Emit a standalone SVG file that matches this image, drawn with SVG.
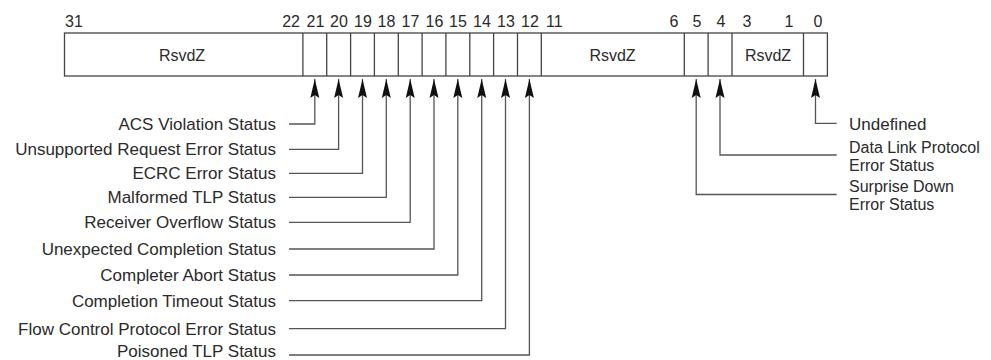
<svg xmlns="http://www.w3.org/2000/svg" width="991" height="360" viewBox="0 0 991 360">
<style>
.lbl{font-family:"Liberation Sans",Arial,sans-serif;font-size:17px;fill:#2a2a2a}
.lbs{font-family:"Liberation Sans",Arial,sans-serif;font-size:16px;fill:#2a2a2a}
.num{font-family:"Liberation Sans",Arial,sans-serif;font-size:16px;fill:#2a2a2a}
.fld{font-family:"Liberation Sans",Arial,sans-serif;font-size:16px;fill:#2a2a2a;text-anchor:middle}
.box{fill:#fff;stroke:#444;stroke-width:1.3}
.div{stroke:#444;stroke-width:1.3}
.con{fill:none;stroke:#555;stroke-width:1.3;marker-end:url(#ah)}
</style>
<defs>
<marker id="ah" markerUnits="userSpaceOnUse" markerWidth="20" markerHeight="10" viewBox="0 0 20 10" refX="19" refY="5" orient="auto">
<path d="M0,0.5 L19,5 L0,9.5 L3,5 Z" fill="#111"/>
</marker>
</defs>
<rect width="991" height="360" fill="#fff"/>
<g id="register">
<rect class="box" x="64.5" y="33" width="762.9" height="43"/>
<g>
<line class="div" x1="302.9" y1="33" x2="302.9" y2="76"/>
<line class="div" x1="326.7" y1="33" x2="326.7" y2="76"/>
<line class="div" x1="350.6" y1="33" x2="350.6" y2="76"/>
<line class="div" x1="374.4" y1="33" x2="374.4" y2="76"/>
<line class="div" x1="398.3" y1="33" x2="398.3" y2="76"/>
<line class="div" x1="422.1" y1="33" x2="422.1" y2="76"/>
<line class="div" x1="445.9" y1="33" x2="445.9" y2="76"/>
<line class="div" x1="469.8" y1="33" x2="469.8" y2="76"/>
<line class="div" x1="493.6" y1="33" x2="493.6" y2="76"/>
<line class="div" x1="517.5" y1="33" x2="517.5" y2="76"/>
<line class="div" x1="541.3" y1="33" x2="541.3" y2="76"/>
<line class="div" x1="684.3" y1="33" x2="684.3" y2="76"/>
<line class="div" x1="708.1" y1="33" x2="708.1" y2="76"/>
<line class="div" x1="732" y1="33" x2="732" y2="76"/>
<line class="div" x1="803.5" y1="33" x2="803.5" y2="76"/>
</g>
<text class="fld" x="182" y="61">RsvdZ</text>
<text class="fld" x="612.5" y="61">RsvdZ</text>
<text class="fld" x="768" y="61">RsvdZ</text>
</g>
<g id="bitnumbers">
<text class="num" x="65" y="27">31</text>
<text class="num" x="300" y="27" text-anchor="end">22</text>
<text class="num" x="315.5" y="27" text-anchor="middle">21</text>
<text class="num" x="339" y="27" text-anchor="middle">20</text>
<text class="num" x="363" y="27" text-anchor="middle">19</text>
<text class="num" x="386.5" y="27" text-anchor="middle">18</text>
<text class="num" x="410.5" y="27" text-anchor="middle">17</text>
<text class="num" x="434.5" y="27" text-anchor="middle">16</text>
<text class="num" x="458" y="27" text-anchor="middle">15</text>
<text class="num" x="482" y="27" text-anchor="middle">14</text>
<text class="num" x="506" y="27" text-anchor="middle">13</text>
<text class="num" x="530" y="27" text-anchor="middle">12</text>
<text class="num" x="546" y="27">11</text>
<text class="num" x="678.5" y="27" text-anchor="end">6</text>
<text class="num" x="697" y="27" text-anchor="middle">5</text>
<text class="num" x="721" y="27" text-anchor="middle">4</text>
<text class="num" x="742.5" y="27">3</text>
<text class="num" x="793.5" y="27" text-anchor="end">1</text>
<text class="num" x="818" y="27" text-anchor="middle">0</text>
</g>
<g id="connectors">
<path class="con" d="M289,124 H314.8 V79"/>
<path class="con" d="M289,149.3 H338.6 V79"/>
<path class="con" d="M289,173.3 H362.5 V79"/>
<path class="con" d="M289,197.3 H386.3 V79"/>
<path class="con" d="M289,222.3 H410.2 V79"/>
<path class="con" d="M289,249 H434 V79"/>
<path class="con" d="M289,275 H457.8 V79"/>
<path class="con" d="M289,300.7 H481.7 V79"/>
<path class="con" d="M289,328.7 H505.5 V79"/>
<path class="con" d="M289,355 H529.4 V79"/>
<path class="con" d="M836.7,123.3 H815.5 V79"/>
<path class="con" d="M836.7,155 H720 V79"/>
<path class="con" d="M836.7,194.5 H696.2 V79"/>
</g>
<g id="lbl-acs"><text class="lbl" x="276" y="130" text-anchor="end">ACS Violation Status</text></g>
<g id="lbl-ur"><text class="lbl" x="276" y="155.3" text-anchor="end">Unsupported Request Error Status</text></g>
<g id="lbl-ecrc"><text class="lbl" x="276" y="179.3" text-anchor="end">ECRC Error Status</text></g>
<g id="lbl-mtlp"><text class="lbl" x="276" y="203.3" text-anchor="end">Malformed TLP Status</text></g>
<g id="lbl-ro"><text class="lbl" x="276" y="228.3" text-anchor="end">Receiver Overflow Status</text></g>
<g id="lbl-uc"><text class="lbl" x="276" y="255" text-anchor="end">Unexpected Completion Status</text></g>
<g id="lbl-ca"><text class="lbl" x="276" y="281" text-anchor="end">Completer Abort Status</text></g>
<g id="lbl-ct"><text class="lbl" x="276" y="306.7" text-anchor="end">Completion Timeout Status</text></g>
<g id="lbl-fcp"><text class="lbl" x="276" y="334.7" text-anchor="end">Flow Control Protocol Error Status</text></g>
<g id="lbl-ptlp"><text class="lbl" x="276" y="357" text-anchor="end">Poisoned TLP Status</text></g>
<g id="lbl-undef"><text class="lbl" x="849" y="129.5">Undefined</text></g>
<g id="lbl-dlp"><text class="lbs" x="849" y="152.5">Data Link Protocol</text><text class="lbs" x="849" y="170.7">Error Status</text></g>
<g id="lbl-sd"><text class="lbs" x="849" y="191.7">Surprise Down</text><text class="lbs" x="849" y="209.9">Error Status</text></g>
</svg>
